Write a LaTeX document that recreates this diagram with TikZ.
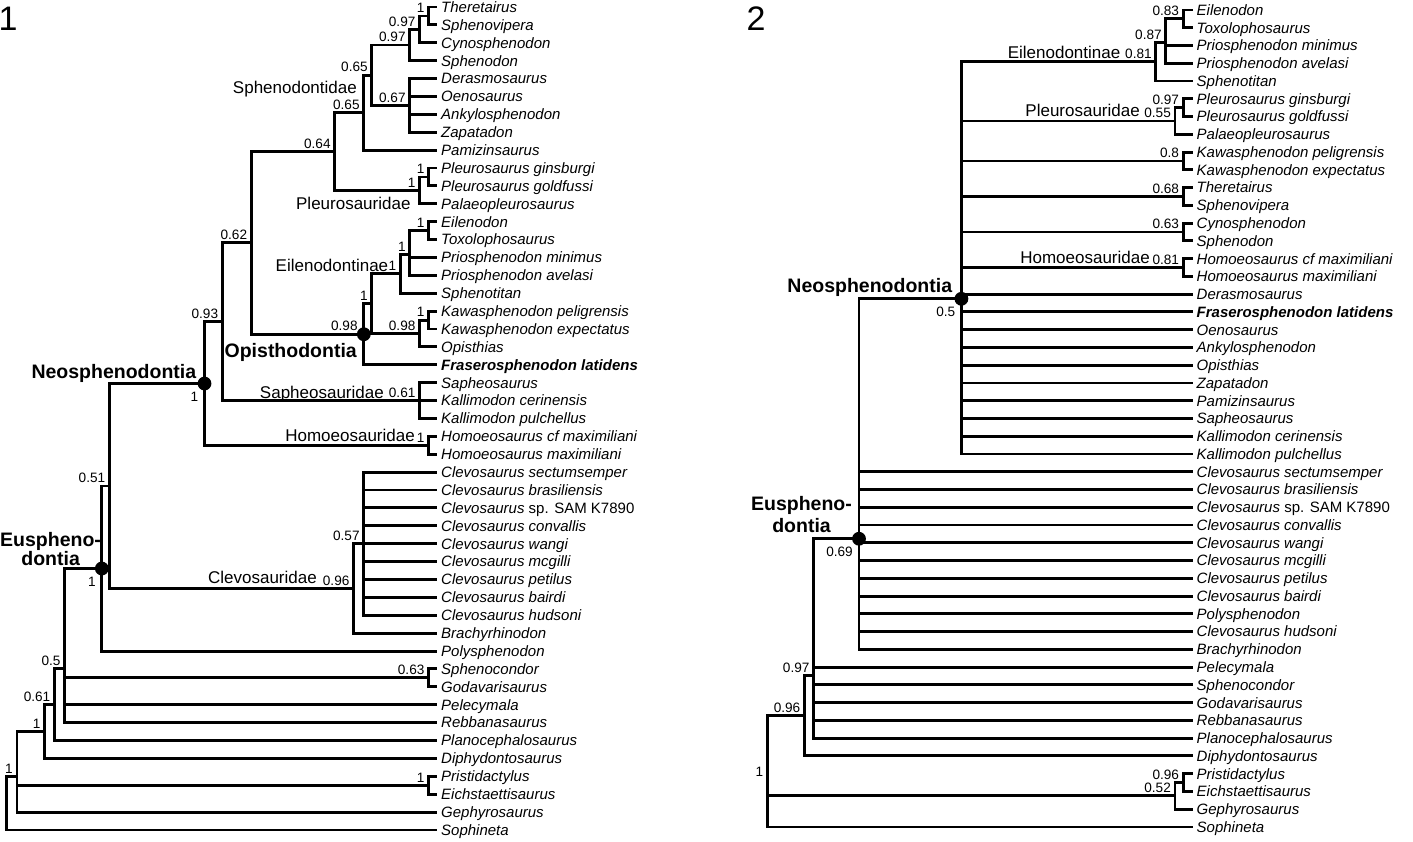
\documentclass[tikz,border=0pt]{standalone}
\usepackage{fontspec}
\setmainfont{Liberation Sans}
\tikzset{
 tree/.style={line width=2.9pt, line join=miter},
 leaf/.style={anchor=west, inner sep=0pt, text height=10.74pt, text depth=0pt, font=\fontsize{15}{18}\selectfont\itshape},
 sup/.style={anchor=south east, inner sep=0pt, font=\fontsize{13.6}{15}\selectfont},
 supb/.style={anchor=north east, inner sep=0pt, font=\fontsize{13.6}{15}\selectfont},
 clade/.style={anchor=east, inner sep=0pt, text height=12.2pt, text depth=0pt, font=\fontsize{17}{20}\selectfont},
 cladeb/.style={anchor=east, inner sep=0pt, text height=14pt, text depth=0pt, font=\fontsize{19.5}{22}\selectfont\bfseries},
 cladebb/.style={anchor=center, inner sep=0pt, align=center, font=\fontsize{19.5}{#1}\selectfont\bfseries},
 dot/.style={circle, fill=black, inner sep=0pt, minimum size=13.8pt},
 panel/.style={anchor=base west, inner sep=0pt, font=\fontsize{34}{36}\selectfont},
}
\newcommand\lfL[2]{\coordinate (lf#1) at (437,{7+17.89*#1}); \node[leaf] (lt#1) at (441,{7+17.89*#1}) {#2};}
\newcommand\lfR[2]{\coordinate (rt#1) at (1193,{10+17.76*#1}); \node[leaf] (rx#1) at (1196.5,{10+17.76*#1}) {#2};}
\newcommand\br[2]{\foreach \kid in {#2}{\draw[tree] (#1) |- (\kid);}}
\newcommand\supp[2]{\node[sup] (s#1) at ([xshift=-4pt,yshift=3pt]#1) {#2};}
\newcommand\suppb[2]{\node[supb] (s#1) at ([xshift=-6pt,yshift=-8.5pt]#1) {#2};}
\begin{document}
\begin{tikzpicture}[x=1pt,y=-1pt]
\useasboundingbox (0,0) rectangle (1413,841);
% ---------------- panel 1 ----------------
\node[panel] (p1lab) at (-1.5,30) {1};
\lfL{0}{Theretairus}
\lfL{1}{Sphenovipera}
\lfL{2}{Cynosphenodon}
\lfL{3}{Sphenodon}
\lfL{4}{Derasmosaurus}
\lfL{5}{Oenosaurus}
\lfL{6}{Ankylosphenodon}
\lfL{7}{Zapatadon}
\lfL{8}{Pamizinsaurus}
\lfL{9}{Pleurosaurus ginsburgi}
\lfL{10}{Pleurosaurus goldfussi}
\lfL{11}{Palaeopleurosaurus}
\lfL{12}{Eilenodon}
\lfL{13}{Toxolophosaurus}
\lfL{14}{Priosphenodon minimus}
\lfL{15}{Priosphenodon avelasi}
\lfL{16}{Sphenotitan}
\lfL{17}{Kawasphenodon peligrensis}
\lfL{18}{Kawasphenodon expectatus}
\lfL{19}{Opisthias}
\lfL{20}{\textbf{Fraserosphenodon latidens}}
\lfL{21}{Sapheosaurus}
\lfL{22}{Kallimodon cerinensis}
\lfL{23}{Kallimodon pulchellus}
\lfL{24}{Homoeosaurus cf maximiliani}
\lfL{25}{Homoeosaurus maximiliani}
\lfL{26}{Clevosaurus sectumsemper}
\lfL{27}{Clevosaurus brasiliensis}
\lfL{28}{Clevosaurus {\upshape sp. SAM K7890}}
\lfL{29}{Clevosaurus convallis}
\lfL{30}{Clevosaurus wangi}
\lfL{31}{Clevosaurus mcgilli}
\lfL{32}{Clevosaurus petilus}
\lfL{33}{Clevosaurus bairdi}
\lfL{34}{Clevosaurus hudsoni}
\lfL{35}{Brachyrhinodon}
\lfL{36}{Polysphenodon}
\lfL{37}{Sphenocondor}
\lfL{38}{Godavarisaurus}
\lfL{39}{Pelecymala}
\lfL{40}{Rebbanasaurus}
\lfL{41}{Planocephalosaurus}
\lfL{42}{Diphydontosaurus}
\lfL{43}{Pristidactylus}
\lfL{44}{Eichstaettisaurus}
\lfL{45}{Gephyrosaurus}
\lfL{46}{Sophineta}
\coordinate (a1) at (428.6,15.95);
\coordinate (a2) at (419.6,29.37);
\coordinate (a3) at (409.8,45.02);
\coordinate (a4) at (409.8,105.40);
\coordinate (a5) at (371.9,75.21);
\coordinate (a6) at (363.8,112.67);
\coordinate (b1) at (428.6,176.96);
\coordinate (b2) at (419.6,190.37);
\coordinate (a7) at (334.8,151.52);
\coordinate (c1) at (428.6,230.63);
\coordinate (c2) at (409.8,254.48);
\coordinate (c3) at (400.4,273.86);
\coordinate (d1) at (428.6,320.07);
\coordinate (d2) at (419.6,333.49);
\coordinate (c4) at (371.9,303.68);
\coordinate (op) at (363.8,334.24);
\coordinate (n1) at (251.3,242.88);
\coordinate (s1) at (419.6,400.58);
\coordinate (n2) at (222.3,321.73);
\coordinate (h1) at (428.6,445.31);
\coordinate (neo) at (204.5,383.52);
\coordinate (cl1) at (363.8,543.70);
\coordinate (cl2) at (353.6,588.43);
\coordinate (n4) at (109.4,485.98);
\coordinate (eu) at (101.8,568.51);
\coordinate (g1) at (428.6,677.88);
\coordinate (n6) at (64.7,668.43);
\coordinate (n7) at (54.5,704.46);
\coordinate (n8) at (44.6,731.42);
\coordinate (p1) at (428.6,785.22);
\coordinate (n9) at (17,776.23);
\coordinate (root) at (6.7,803.09);
\br{a1}{lf0,lf1}
\br{a2}{a1,lf2}
\br{a3}{a2,lf3}
\br{a4}{lf4,lf5,lf6,lf7}
\br{a5}{a3,a4}
\br{a6}{a5,lf8}
\br{b1}{lf9,lf10}
\br{b2}{b1,lf11}
\br{a7}{a6,b2}
\br{c1}{lf12,lf13}
\br{c2}{c1,lf14,lf15}
\br{c3}{c2,lf16}
\br{d1}{lf17,lf18}
\br{d2}{d1,lf19}
\br{c4}{c3,d2}
\br{op}{c4,lf20}
\br{n1}{a7,op}
\br{s1}{lf21,lf22,lf23}
\br{n2}{n1,s1}
\br{h1}{lf24,lf25}
\br{neo}{n2,h1}
\br{cl1}{lf26,lf27,lf28,lf29,lf30,lf31,lf32,lf33,lf34}
\br{cl2}{cl1,lf35}
\br{n4}{neo,cl2}
\br{eu}{n4,lf36}
\br{g1}{lf37,lf38}
\br{n6}{eu,g1,lf39,lf40}
\br{n7}{n6,lf41}
\br{n8}{n7,lf42}
\br{p1}{lf43,lf44}
\br{n9}{n8,p1,lf45}
\br{root}{n9,lf46}
\node[dot] (dop) at (op) {};
\node[dot] (dneo) at (neo) {};
\node[dot] (deu) at (eu) {};
\supp{a1}{1}
\supp{a2}{0.97}
\supp{a3}{0.97}
\supp{a4}{0.67}
\supp{a5}{0.65}
\supp{a6}{0.65}
\supp{b1}{1}
\supp{b2}{1}
\supp{a7}{0.64}
\supp{c1}{1}
\supp{c2}{1}
\supp{c3}{1}
\supp{d1}{1}
\supp{d2}{0.98}
\supp{c4}{1}
\node[sup] (sop) at ([xshift=-6pt,yshift=3pt]op) {0.98};
\supp{n1}{0.62}
\supp{s1}{0.61}
\supp{n2}{0.93}
\supp{h1}{1}
\suppb{neo}{1}
\supp{cl1}{0.57}
\supp{cl2}{0.96}
\supp{n4}{0.51}
\suppb{eu}{1}
\supp{g1}{0.63}
\supp{n6}{0.5}
\supp{n7}{0.61}
\supp{n8}{1}
\supp{p1}{1}
\supp{n9}{1}
\node[clade] (kSphL) at (357,87.3) {Sphenodontidae};
\node[clade] (kPleL) at (410.7,203.3) {Pleurosauridae};
\node[clade] (kEilL) at (388.4,265) {Eilenodontinae};
\node[cladeb] (kOpiL) at (357,350) {Opisthodontia};
\node[clade] (kSapL) at (384,392.3) {Sapheosauridae};
\node[clade] (kHomL) at (415,435) {Homoeosauridae};
\node[clade] (kCleL) at (317,577.7) {Clevosauridae};
\node[cladeb] (kNeoL) at (196.4,371) {Neosphenodontia};
\node[cladebb=19] (kEuL) at (50.6,548.8) {Euspheno-\\dontia};
% ---------------- panel 2 ----------------
\node[panel] (p2lab) at (746.5,30) {2};
\lfR{0}{Eilenodon}
\lfR{1}{Toxolophosaurus}
\lfR{2}{Priosphenodon minimus}
\lfR{3}{Priosphenodon avelasi}
\lfR{4}{Sphenotitan}
\lfR{5}{Pleurosaurus ginsburgi}
\lfR{6}{Pleurosaurus goldfussi}
\lfR{7}{Palaeopleurosaurus}
\lfR{8}{Kawasphenodon peligrensis}
\lfR{9}{Kawasphenodon expectatus}
\lfR{10}{Theretairus}
\lfR{11}{Sphenovipera}
\lfR{12}{Cynosphenodon}
\lfR{13}{Sphenodon}
\lfR{14}{Homoeosaurus cf maximiliani}
\lfR{15}{Homoeosaurus maximiliani}
\lfR{16}{Derasmosaurus}
\lfR{17}{\textbf{Fraserosphenodon latidens}}
\lfR{18}{Oenosaurus}
\lfR{19}{Ankylosphenodon}
\lfR{20}{Opisthias}
\lfR{21}{Zapatadon}
\lfR{22}{Pamizinsaurus}
\lfR{23}{Sapheosaurus}
\lfR{24}{Kallimodon cerinensis}
\lfR{25}{Kallimodon pulchellus}
\lfR{26}{Clevosaurus sectumsemper}
\lfR{27}{Clevosaurus brasiliensis}
\lfR{28}{Clevosaurus {\upshape sp. SAM K7890}}
\lfR{29}{Clevosaurus convallis}
\lfR{30}{Clevosaurus wangi}
\lfR{31}{Clevosaurus mcgilli}
\lfR{32}{Clevosaurus petilus}
\lfR{33}{Clevosaurus bairdi}
\lfR{34}{Polysphenodon}
\lfR{35}{Clevosaurus hudsoni}
\lfR{36}{Brachyrhinodon}
\lfR{37}{Pelecymala}
\lfR{38}{Sphenocondor}
\lfR{39}{Godavarisaurus}
\lfR{40}{Rebbanasaurus}
\lfR{41}{Planocephalosaurus}
\lfR{42}{Diphydontosaurus}
\lfR{43}{Pristidactylus}
\lfR{44}{Eichstaettisaurus}
\lfR{45}{Gephyrosaurus}
\lfR{46}{Sophineta}
\coordinate (e1) at (1183.2,18.88);
\coordinate (e2) at (1165.9,42.56);
\coordinate (e3) at (1155.9,61.80);
\coordinate (f1) at (1183.2,107.68);
\coordinate (f2) at (1175,121.00);
\coordinate (k1) at (1183.2,160.96);
\coordinate (t1) at (1183.2,196.48);
\coordinate (cy) at (1183.2,232.00);
\coordinate (ho) at (1183.2,267.52);
\coordinate (neoR) at (961.4,298.79);
\coordinate (euR) at (859,538.75);
\coordinate (q1) at (813.6,675.33);
\coordinate (q2) at (804.5,715.62);
\coordinate (x1) at (1183.2,782.56);
\coordinate (x2) at (1175,795.88);
\coordinate (rootR) at (767.3,779.49);
\br{e1}{rt0,rt1}
\br{e2}{e1,rt2,rt3}
\br{e3}{e2,rt4}
\br{f1}{rt5,rt6}
\br{f2}{f1,rt7}
\br{k1}{rt8,rt9}
\br{t1}{rt10,rt11}
\br{cy}{rt12,rt13}
\br{ho}{rt14,rt15}
\br{neoR}{e3,f2,k1,t1,cy,ho,rt16,rt17,rt18,rt19,rt20,rt21,rt22,rt23,rt24,rt25}
\br{euR}{neoR,rt26,rt27,rt28,rt29,rt30,rt31,rt32,rt33,rt34,rt35,rt36}
\br{q1}{euR,rt37,rt38,rt39,rt40,rt41}
\br{q2}{q1,rt42}
\br{x1}{rt43,rt44}
\br{x2}{x1,rt45}
\br{rootR}{q2,x2,rt46}
\node[dot] (dneoR) at (neoR) {};
\node[dot] (deuR) at (euR) {};
\supp{e1}{0.83}
\supp{e2}{0.87}
\supp{e3}{0.81}
\supp{f1}{0.97}
\supp{f2}{0.55}
\supp{k1}{0.8}
\supp{t1}{0.68}
\supp{cy}{0.63}
\supp{ho}{0.81}
\suppb{neoR}{0.5}
\suppb{euR}{0.69}
\supp{q1}{0.97}
\supp{q2}{0.96}
\supp{x1}{0.96}
\supp{x2}{0.52}
\supp{rootR}{1}
\node[clade] (kEilR) at (1120.5,52.3) {Eilenodontinae};
\node[clade] (kPleR) at (1140,110) {Pleurosauridae};
\node[clade] (kHomR) at (1150,257.3) {Homoeosauridae};
\node[cladeb] (kNeoR) at (952.3,285) {Neosphenodontia};
\node[cladebb=22] (kEuR) at (801.5,515) {Euspheno-\\dontia};
\end{tikzpicture}
\end{document}
